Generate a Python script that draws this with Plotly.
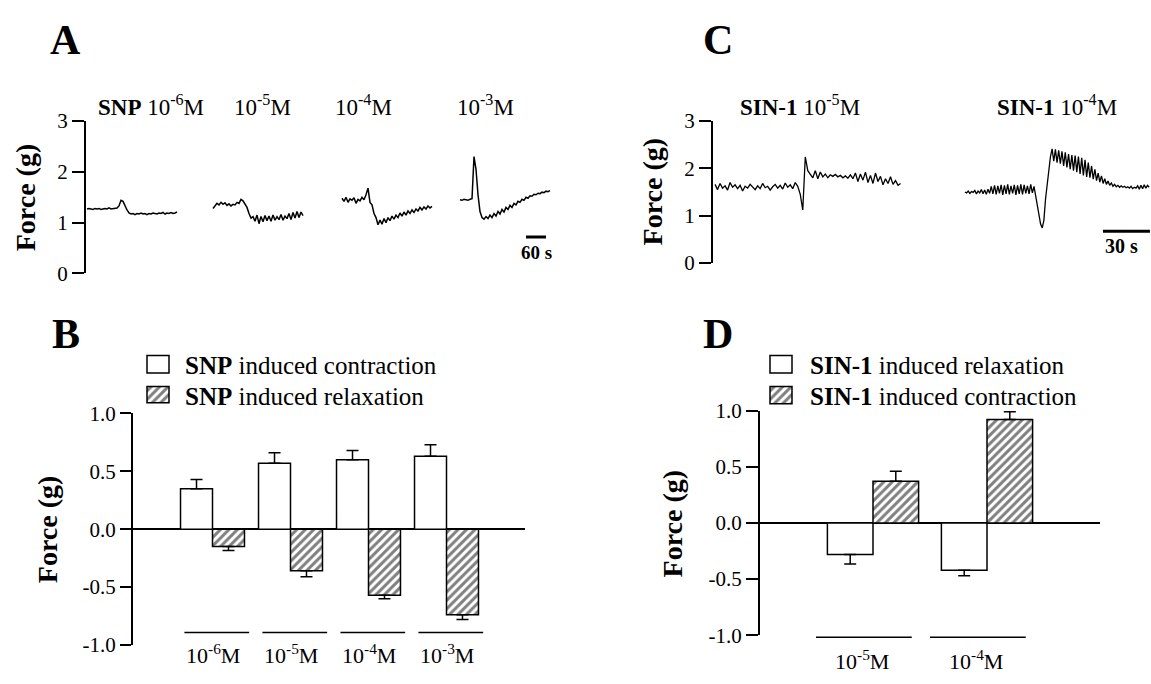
import plotly.graph_objects as go

W, H = 1151, 684
SERIF = "Liberation Serif"

# ======================= DATA =======================
# Panel A: SNP raw recordings (force, g); one sample every A_DT seconds
A_DT = 6
a_t0 = [3, 381, 768, 1122]
a_snp_1e6 = [1.27, 1.28, 1.27, 1.26, 1.28, 1.27, 1.28, 1.26, 1.27, 1.28, 1.27, 1.29, 1.27, 1.28, 1.28, 1.29,
             1.33, 1.44, 1.42, 1.33, 1.25, 1.19,
             1.17, 1.18, 1.16, 1.18, 1.17, 1.19, 1.17, 1.18, 1.16, 1.18, 1.17, 1.19, 1.18, 1.17, 1.19, 1.18,
             1.20, 1.17, 1.19, 1.18, 1.20, 1.18, 1.19, 1.21]
a_snp_1e5 = [1.28, 1.33, 1.38, 1.35, 1.40, 1.36, 1.39, 1.34, 1.37, 1.33, 1.36, 1.35, 1.40, 1.38, 1.46, 1.43,
             1.35, 1.30, 1.18, 1.09, 1.12, 1.03, 1.15, 0.98, 1.12, 1.02, 1.14, 1.04, 1.13, 1.03, 1.15, 1.05,
             1.12, 1.06, 1.16, 1.05, 1.13, 1.08, 1.18, 1.06, 1.20, 1.09, 1.22, 1.10, 1.21, 1.14]
a_snp_1e4 = [1.48, 1.42, 1.50, 1.40, 1.47, 1.44, 1.49, 1.38, 1.46, 1.43, 1.50, 1.45, 1.55, 1.68, 1.40, 1.35,
             1.18, 1.10, 0.96, 1.05, 0.97, 1.08, 1.00, 1.10, 1.04, 1.13, 1.07, 1.15, 1.10, 1.19, 1.13, 1.21,
             1.15, 1.23, 1.18, 1.25, 1.20, 1.27, 1.23, 1.30, 1.25, 1.31, 1.27, 1.33, 1.29, 1.32]
a_snp_1e3 = [1.45, 1.44, 1.46, 1.45, 1.44, 1.46, 1.47, 2.30, 2.05, 1.55, 1.22, 1.10, 1.07, 1.12, 1.08, 1.15,
             1.10, 1.18, 1.13, 1.22, 1.17, 1.26, 1.21, 1.30, 1.26, 1.34, 1.30, 1.38, 1.35, 1.42, 1.40, 1.46,
             1.44, 1.50, 1.48, 1.53, 1.52, 1.56, 1.55, 1.58, 1.57, 1.60, 1.59, 1.62, 1.61, 1.63]
a_labels = ["<b>SNP</b> 10<sup>-6</sup>M", "10<sup>-5</sup>M", "10<sup>-4</sup>M", "10<sup>-3</sup>M"]
a_scale_t0, a_scale_len = 1320, 60

# Panel C: SIN-1 raw recordings (force, g)
c_t0 = [1.3, 160.8]
c_dt = [1.6, 1.05]
c_sin_1e5 = [1.66, 1.55, 1.68, 1.58, 1.63, 1.54, 1.70, 1.60, 1.65, 1.57, 1.64, 1.52, 1.62, 1.58, 1.66,
             1.60, 1.55, 1.63, 1.57, 1.68, 1.59, 1.62, 1.54, 1.61, 1.66, 1.58, 1.64, 1.56, 1.69, 1.60,
             1.65, 1.57, 1.70, 1.62, 1.45,
             1.12, 2.24, 1.95, 1.88, 1.80, 1.95, 1.78, 1.92, 1.82, 1.88, 1.80, 1.86, 1.83, 1.87, 1.82,
             1.85, 1.80, 1.84, 1.79, 1.86, 1.78, 1.90, 1.72, 1.88, 1.75, 1.92, 1.70, 1.85, 1.68, 1.90,
             1.72, 1.83, 1.65, 1.78, 1.68, 1.82, 1.66, 1.74, 1.64, 1.68]
c_sin_1e4 = [1.50, 1.48, 1.52, 1.47, 1.51, 1.49, 1.53, 1.46, 1.52, 1.48, 1.55, 1.46, 1.54, 1.45, 1.56, 1.47,
             1.62, 1.46, 1.64, 1.45, 1.63, 1.47, 1.65, 1.44, 1.64, 1.46, 1.66, 1.45, 1.63, 1.47, 1.65,
             1.44, 1.64, 1.46, 1.66, 1.45, 1.65, 1.47, 1.63, 1.46, 1.66, 1.48, 1.62,
             1.42, 1.30, 1.05, 0.82, 0.74, 0.90, 1.35, 1.68, 1.95, 2.25, 2.41, 2.15,
             2.40, 2.12, 2.38, 2.10, 2.36, 2.05, 2.34, 2.02, 2.30, 1.98, 2.28, 1.95, 2.27, 1.92, 2.25,
             1.88, 2.22, 1.85, 2.18, 1.82, 2.12, 1.80, 2.05, 1.77, 1.98, 1.74, 1.90, 1.71, 1.84, 1.68,
             1.78, 1.66, 1.73, 1.64, 1.69, 1.62, 1.66, 1.61, 1.64, 1.60, 1.63, 1.60, 1.62, 1.59, 1.61,
             1.58, 1.62, 1.57, 1.60, 1.58, 1.63, 1.56, 1.64, 1.57, 1.65, 1.58, 1.64, 1.60]
c_labels = ["<b>SIN-1</b> 10<sup>-5</sup>M", "<b>SIN-1</b> 10<sup>-4</sup>M"]
c_scale_t0, c_scale_len = 248.9, 30

# Panel B: SNP mean responses (g) and SEM
b_conc = ["10<sup>-6</sup>M", "10<sup>-5</sup>M", "10<sup>-4</sup>M", "10<sup>-3</sup>M"]
b_contraction = [0.35, 0.57, 0.60, 0.63]
b_contraction_sem = [0.08, 0.09, 0.08, 0.10]
b_relaxation = [-0.15, -0.36, -0.57, -0.74]
b_relaxation_sem = [0.035, 0.05, 0.03, 0.04]

# Panel D: SIN-1 mean responses (g) and SEM
d_conc = ["10<sup>-5</sup>M", "10<sup>-4</sup>M"]
d_relaxation = [-0.28, -0.42]
d_relaxation_sem = [0.085, 0.05]
d_contraction = [0.37, 0.92]
d_contraction_sem = [0.09, 0.07]

# ======================= FIGURE =======================
def fx(p):
    return p / W


def fy(p):
    return 1 - p / H


BLACK = "black"
HATCH = dict(shape="/", fgcolor=BLACK, bgcolor="white", size=6, solidity=0.5)

fig = go.Figure()

# ---- Panel A traces
for t0, vals in zip(a_t0, [a_snp_1e6, a_snp_1e5, a_snp_1e4, a_snp_1e3]):
    fig.add_trace(go.Scatter(x=[t0 + i * A_DT for i in range(len(vals))], y=vals, mode="lines",
                             line=dict(color=BLACK, width=1.5), xaxis="x", yaxis="y", hoverinfo="skip"))
fig.add_trace(go.Scatter(x=[a_scale_t0, a_scale_t0 + a_scale_len], y=[0.72, 0.72], mode="lines",
                         line=dict(color=BLACK, width=3), xaxis="x", yaxis="y", hoverinfo="skip"))

# ---- Panel C traces
for t0, dt, vals in zip(c_t0, c_dt, [c_sin_1e5, c_sin_1e4]):
    fig.add_trace(go.Scatter(x=[t0 + i * dt for i in range(len(vals))], y=vals, mode="lines",
                             line=dict(color=BLACK, width=1.3), xaxis="x2", yaxis="y2", hoverinfo="skip"))
fig.add_trace(go.Scatter(x=[c_scale_t0, c_scale_t0 + c_scale_len], y=[0.67, 0.67], mode="lines",
                         line=dict(color=BLACK, width=3), xaxis="x2", yaxis="y2", hoverinfo="skip"))

# ---- Panel B bars
bw_b = 0.41
bx = list(range(len(b_conc)))
fig.add_trace(go.Bar(x=bx, y=b_contraction, width=bw_b, offset=-bw_b, xaxis="x3", yaxis="y3",
                     marker=dict(color="white", line=dict(color=BLACK, width=1.5)),
                     error_y=dict(type="data", symmetric=False, array=b_contraction_sem,
                                  arrayminus=[0] * len(bx), color=BLACK, thickness=1.5, width=6)))
fig.add_trace(go.Bar(x=bx, y=b_relaxation, width=bw_b, offset=0, xaxis="x3", yaxis="y3",
                     marker=dict(color="white", line=dict(color=BLACK, width=1.5), pattern=HATCH),
                     error_y=dict(type="data", symmetric=False, array=[0] * len(bx),
                                  arrayminus=b_relaxation_sem, color=BLACK, thickness=1.5, width=6)))

# ---- Panel D bars
bw_d = 0.4
dx = list(range(len(d_conc)))
fig.add_trace(go.Bar(x=dx, y=d_relaxation, width=bw_d, offset=-bw_d, xaxis="x4", yaxis="y4",
                     marker=dict(color="white", line=dict(color=BLACK, width=1.5)),
                     error_y=dict(type="data", symmetric=False, array=[0] * len(dx),
                                  arrayminus=d_relaxation_sem, color=BLACK, thickness=1.5, width=6)))
fig.add_trace(go.Bar(x=dx, y=d_contraction, width=bw_d, offset=0, xaxis="x4", yaxis="y4",
                     marker=dict(color="white", line=dict(color=BLACK, width=1.5), pattern=HATCH),
                     error_y=dict(type="data", symmetric=False, array=d_contraction_sem,
                                  arrayminus=[0] * len(dx), color=BLACK, thickness=1.5, width=6)))

# ---- hatched legend glyphs (single bars on tiny axes)
for xa, ya in (("x5", "y5"), ("x6", "y6")):
    fig.add_trace(go.Bar(x=[0], y=[1], width=1, xaxis=xa, yaxis=ya,
                         marker=dict(color="white", line=dict(color=BLACK, width=1.5), pattern=HATCH)))

yax = dict(showline=True, linewidth=2, linecolor=BLACK, ticks="outside", ticklen=12, tickwidth=2,
           tickcolor=BLACK, showgrid=False, zeroline=False, tickfont=dict(size=21, family=SERIF, color=BLACK))
hid = dict(visible=False, showgrid=False, zeroline=False)
bar_ticks = dict(tickvals=[-1, -0.5, 0, 0.5, 1], ticktext=["-1.0", "-0.5", "0.0", "0.5", "1.0"])


def mini(px0, py0, px1, py1, pad=2):
    w, h = px1 - px0, py1 - py0
    xd = [fx(px0 - pad), fx(px1 + pad)]
    yd = [fy(py1 + pad), fy(py0 - pad)]
    xr = [-0.5 - pad / w, 0.5 + pad / w]
    yr = [-pad / h, 1 + pad / h]
    return dict(hid, domain=xd, range=xr), dict(hid, domain=yd, range=yr)


x5, y5 = mini(147, 388, 169, 405)
x6, y6 = mini(770, 388, 792, 406)

fig.update_layout(
    width=W, height=H, margin=dict(l=0, r=0, t=0, b=0),
    paper_bgcolor="white", plot_bgcolor="rgba(0,0,0,0)", showlegend=False, barmode="overlay",
    font=dict(family=SERIF, color=BLACK),
    xaxis=dict(hid, domain=[fx(86), fx(560)], range=[0, (560 - 86) * 3]),
    yaxis=dict(yax, domain=[fy(271), fy(113)], range=[0, 3], tickvals=[0, 1, 2, 3], anchor="x"),
    xaxis2=dict(hid, domain=[fx(713), 1], range=[0, (W - 713) * 30 / 47], anchor="y2"),
    yaxis2=dict(yax, domain=[fy(260), fy(113)], range=[0, 3], tickvals=[0, 1, 2, 3], anchor="x2"),
    xaxis3=dict(hid, domain=[fx(133), fx(525)], range=[(133 - 212.5) / 78, (525 - 212.5) / 78], anchor="y3"),
    yaxis3=dict(yax, domain=[fy(656), fy(416)], range=[-1, 1], anchor="x3", ticklen=11,
                zeroline=True, zerolinecolor=BLACK, zerolinewidth=1.5, **bar_ticks),
    xaxis4=dict(hid, domain=[fx(760), fx(1100)], range=[(760 - 873) / 114, (1100 - 873) / 114], anchor="y4"),
    yaxis4=dict(yax, domain=[fy(646), fy(413)], range=[-1, 1], anchor="x4",
                zeroline=True, zerolinecolor=BLACK, zerolinewidth=1.5, **bar_ticks),
    xaxis5=dict(x5, anchor="y5"), yaxis5=dict(y5, anchor="x5"),
    xaxis6=dict(x6, anchor="y6"), yaxis6=dict(y6, anchor="x6"),
)

ann = []


def text(x, y, s, size, xanchor="center", yanchor="middle", xref="paper", yref="paper", angle=0):
    ann.append(dict(x=x, y=y, xref=xref, yref=yref, text=s, showarrow=False, xanchor=xanchor,
                    yanchor=yanchor, textangle=angle, font=dict(family=SERIF, size=size, color=BLACK)))


# panel letters
for letter, px_, py_ in (("A", 65, 29), ("C", 718, 29), ("B", 66, 334), ("D", 718, 334)):
    text(fx(px_), fy(py_), "<b>%s</b>" % letter, 42)

# y-axis titles
for px_, py_ in ((25, 192), (652, 186), (47, 536), (672, 530)):
    text(fx(px_), fy(py_), "<b>Force (g)</b>", 28, angle=-90)

# panel A / C concentration labels
for s, px_ in zip(a_labels, [151, 262, 363, 485]):
    text(fx(px_), fy(97), s, 23)
for s, px_ in zip(c_labels, [800, 1057]):
    text(fx(px_), fy(97), s, 23)

# scale bar labels
text(a_scale_t0 + a_scale_len / 2, fy(249), "<b>60 s</b>", 19, xref="x")
text(c_scale_t0 + c_scale_len / 2 - 3, fy(243), "<b>30 s</b>", 20, xref="x2")

# bar chart concentration labels and underlines
shapes = []
for i, s in enumerate(b_conc):
    text(i, fy(665), s, 22, xref="x3")
    shapes.append(dict(type="line", xref="x3", yref="paper", x0=i - 0.36, x1=i + 0.47, y0=fy(643), y1=fy(643),
                       line=dict(color=BLACK, width=1.5)))
for i, s in enumerate(d_conc):
    text(i - 0.1, fy(672), s, 22, xref="x4")
    shapes.append(dict(type="line", xref="x4", yref="paper", x0=i - 0.5, x1=i + 0.34, y0=fy(648), y1=fy(648),
                       line=dict(color=BLACK, width=1.5)))

# legends
for bx0, tx, items in ((147, 183, ["<b>SNP</b> induced contraction", "<b>SNP</b> induced relaxation"]),
                       (770, 808, ["<b>SIN-1</b> induced relaxation", "<b>SIN-1</b> induced contraction"])):
    shapes.append(dict(type="rect", xref="paper", yref="paper", x0=fx(bx0), x1=fx(bx0 + 22),
                       y0=fy(374), y1=fy(356), line=dict(color=BLACK, width=1.5), fillcolor="white"))
    text(fx(tx), fy(366), items[0], 25, xanchor="left")
    text(fx(tx), fy(398), items[1], 25, xanchor="left")

fig.update_layout(annotations=ann, shapes=shapes)
fig.write_html("out.html")
